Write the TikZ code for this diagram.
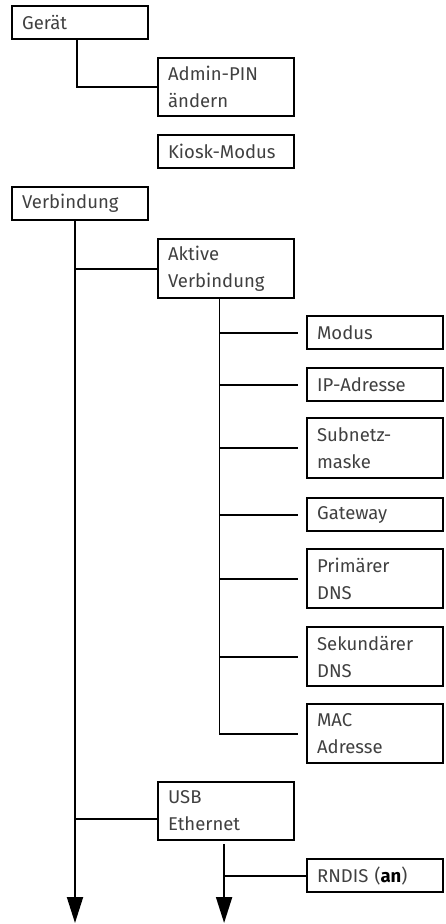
\documentclass[tikz,border=0pt]{standalone}
\usepackage{fontspec}
\setmainfont{Fira Sans}
\usetikzlibrary{arrows.meta}
\definecolor{menutext}{HTML}{404040}

\begin{document}
\begin{tikzpicture}[x=1pt, y=-1pt,
    menubox/.style={draw, line width=2.2pt, anchor=north west, text width=116pt, inner xsep=10pt, inner ysep=4pt,
        align=left, minimum height=#1, font=\fontsize{18.5}{27}\selectfont, text=menutext},
    menubox/.default=33pt,
    link/.style={line width=2pt},
    sublink/.style={line width=1pt},
    down/.style={line width=2pt, -{Triangle[width=16pt,length=26pt]}}]
    \useasboundingbox (0,0) rectangle (446,924);

    \node[menubox] (geraet) at (11,5) {Gerät};
    \node[menubox=58pt] (admin) at (157,57) {Admin-PIN\\ändern};
    \node[menubox] (kiosk) at (157,134) {Kiosk-Modus};
    \node[menubox] (verb) at (11,186) {Verbindung};
    \node[menubox=59pt] (aktiv) at (157,238) {Aktive\\Verbindung};
    \node[menubox] (modus) at (306,315) {Modus};
    \node[menubox] (ip) at (306,367) {IP-Adresse};
    \node[menubox=60pt] (subnetz) at (306,417) {Subnetz-\\maske};
    \node[menubox] (gateway) at (306,497) {Gateway};
    \node[menubox=59pt] (primaer) at (306,548) {Primärer\\DNS};
    \node[menubox=59pt] (sekundaer) at (306,626) {Sekundärer\\DNS};
    \node[menubox=59pt] (mac) at (306,703) {MAC\\Adresse};
    \node[menubox=58pt] (usb) at (157,781) {USB\\Ethernet};
    \node[menubox] (rndis) at (306,858) {RNDIS (\textbf{\color{black}an})};

    % Geraet
    \draw[link] ([xshift=-3pt]geraet.south) |- (admin.west);

    % Verbindung
    \coordinate (vend) at (75,923);
    \coordinate (usbin) at ([yshift=-8pt]usb.west);
    \draw[down] (verb.south -| vend) -- (vend);
    \draw[link] (aktiv.west -| vend) -- (aktiv.west);
    \draw[link] (usbin -| vend) -- (usbin);

    \coordinate (ak) at ([xshift=-7pt]aktiv.south);
    \draw[sublink] (ak) -- (ak |- mac.west);
    \foreach \n in {modus,ip,subnetz,gateway,primaer,sekundaer,mac}
        \draw[link] (ak |- \n.west) -- ([xshift=-8pt]\n.west);

    \coordinate (uend) at ([xshift=-2pt]usb.south |- vend);
    \draw[down] ([xshift=-2pt,yshift=-3pt]usb.south) -- (uend);
    \draw[link] (uend |- rndis.west) -- (rndis.west);
\end{tikzpicture}
\end{document}
